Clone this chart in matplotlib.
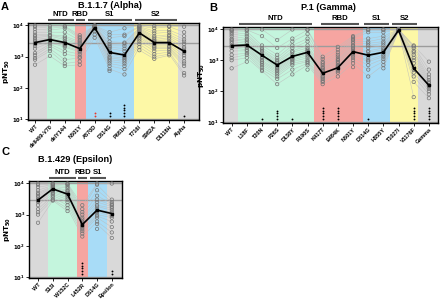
import numpy as np
import matplotlib.pyplot as plt
from matplotlib.transforms import blended_transform_factory

plt.rcParams['font.family'] = ['Liberation Sans', 'DejaVu Sans']
plt.rcParams['font.weight'] = 'bold'

# ---------------- panel A : B.1.1.7 (Alpha)
a_labels = ['WT', 'delH69-V70', 'delY144', 'N501Y', 'A570D', 'D614G', 'P681H',
            'T716I', 'S982A', 'D1118H', 'Alpha']
a_gmt = [2800, 3500, 2800, 1800, 8400, 1360, 1120, 5700, 2800, 2800, 1480]
a_below = [0, 0, 0, 0, 2, 2, 5, 0, 0, 0, 1]
a_wt = [9800, 9000, 7500, 6000, 5000, 4500, 4000, 3500, 3200, 2800, 2500, 2200, 1800, 1300, 1100, 900, 800, 550]
a_del69 = [9500, 8000, 7000, 6000, 5000, 4800, 4500, 4000, 3700, 3500, 3300, 3000, 2800, 2500, 2200, 1800, 1500, 1050]
a_y144 = [9500, 9000, 8000, 6000, 4500, 4000, 3500, 3000, 2800, 2600, 2400, 2200, 2000, 1500, 1200, 800, 600, 500]
a_n501y = [4800, 4200, 3800, 3300, 3000, 2700, 2500, 2200, 2000, 1900, 1700, 1500, 1400, 1200, 1000, 900, 700, 550]
a_a570d = [9800, 9800, 9700, 9600, 9500, 9500, 9400, 9300, 9000, 9000, 8800, 8500, 8000, 7500, 6500, 5000, 4000]
a_d614g = [6000, 5000, 4000, 3000, 2500, 2200, 2000, 1800, 1500, 1200, 1000, 900, 800, 700, 600, 500, 400, 350]
a_p681h = [8000, 5000, 4500, 2800, 2600, 2200, 1800, 1500, 1200, 1000, 900, 800, 700, 600, 500, 400, 270]
a_t716i = [9800, 9500, 9000, 8500, 8000, 7500, 7000, 6500, 6000, 5500, 5000, 4500, 4000, 3500, 3000, 2500, 2000, 1600]
a_s982a = [9500, 8000, 6500, 5500, 4500, 4000, 3500, 3200, 3000, 2800, 2500, 2200, 2000, 1800, 1500, 1200, 1000, 850]
a_d1118h = [9500, 9000, 7000, 6000, 5000, 4500, 4000, 3500, 3000, 2800, 2500, 2200, 2000, 1800, 1600, 1400, 1200, 1100]
a_alpha = [9000, 6000, 4500, 3500, 3000, 2500, 2000, 1800, 1500, 1300, 1100, 900, 700, 600, 500, 300, 250]

# ---------------- panel B : P.1 (Gamma)
b_labels = ['WT', 'L18F', 'T20N', 'P26S', 'D138Y', 'R190S', 'K417T', 'E484K', 'N501Y',
            'D614G', 'H655Y', 'T1027I', 'V1176F', 'Gamma']
b_gmt = [2950, 3100, 1450, 700, 1330, 1800, 380, 575, 1900, 1450, 1800, 9300, 550, 155]
b_below = [0, 0, 1, 4, 1, 0, 5, 5, 0, 1, 0, 0, 5, 5]
b_wt = [9800, 9500, 9000, 8000, 7000, 6000, 5000, 4500, 4000, 3500, 3000, 2800, 2500, 2000, 1500, 1200, 1000, 550]
b_l18f = [9800, 9500, 8500, 7000, 6000, 5000, 4500, 4000, 3500, 3000, 2800, 2500, 2200, 2000, 1700, 1500, 1200, 900]
b_t20n = [9800, 6000, 3000, 2500, 2200, 2000, 1800, 1500, 1300, 1200, 1000, 900, 800, 700, 600, 500, 450]
b_p26s = [4500, 2500, 1500, 1200, 1000, 900, 800, 700, 600, 550, 500, 450, 400, 350, 300, 250, 170]
b_d138y = [9800, 5000, 4000, 3000, 2500, 2000, 1800, 1500, 1300, 1200, 1100, 1000, 900, 800, 700, 500, 350]
b_r190s = [9800, 9500, 7000, 5000, 4000, 3000, 2500, 2200, 2000, 1800, 1600, 1400, 1200, 1000, 900, 800, 700, 500]
b_k417t = [1300, 1100, 900, 800, 700, 600, 550, 500, 450, 400, 350, 300, 280, 250, 220, 200, 170]
b_e484k = [2700, 2200, 1800, 1500, 1300, 1100, 1000, 900, 800, 700, 650, 600, 550, 500, 450, 400, 300]
b_n501y = [6000, 5500, 5000, 4500, 4000, 3500, 3000, 2800, 2500, 2200, 2000, 1800, 1600, 1400, 1200, 1000, 800, 600]
b_d614g = [9800, 9500, 8000, 5000, 4000, 3500, 3000, 2500, 2000, 1800, 1500, 1200, 1000, 900, 700, 500, 300]
b_h655y = [9800, 9500, 8000, 6000, 5000, 4000, 3500, 3000, 2500, 2200, 2000, 1800, 1500, 1300, 1100, 900, 700, 550]
b_t1027i = [9900, 9900, 9800, 9800, 9700, 9700, 9600, 9500, 9500, 9400, 9300, 9200, 9100, 9000, 9000, 8900, 8800, 8700]
b_v1176f = [3000, 2800, 2500, 2000, 1800, 1500, 1200, 1000, 800, 600, 500, 400, 300, 200, 65]
b_gamma = [900, 500, 350, 280, 230, 200, 180, 160, 150, 140, 120, 100, 80, 60]

# ---------------- panel C : B.1.429 (Epsilon)
c_labels = ['WT', 'S13I', 'W152C', 'L452R', 'D614G', 'Epsilon']
c_gmt = [2900, 6600, 4500, 480, 1390, 1080]
c_below = [0, 0, 0, 5, 0, 2]
c_wt = [9800, 9000, 7500, 6000, 5000, 4500, 4000, 3500, 3000, 2800, 2500, 2000, 1500, 1200, 1000, 550]
c_s13i = [9800, 9500, 9000, 8500, 8000, 7500, 7000, 6500, 6000, 5500, 5000, 4500, 4000, 3500, 3000, 2800]
c_w152c = [9800, 9500, 9000, 8000, 7000, 6000, 5500, 5000, 4500, 4000, 3500, 3000, 2500, 2000, 1600, 1300]
c_l452r = [2000, 1500, 1200, 1000, 800, 700, 600, 550, 500, 450, 400, 350, 300, 250, 200]
c_d614g = [9800, 9000, 6000, 4000, 3000, 2500, 2000, 1800, 1500, 1300, 1200, 1000, 900, 800, 600, 500, 350]
c_eps = [9800, 3000, 2500, 2200, 2000, 1800, 1600, 1400, 1200, 1000, 900, 800, 600, 400, 270, 180]

GRAY, GREEN, RED, BLUE, YELLOW = '#d9d9d9', '#c4f5dd', '#f6a5a1', '#a8dcf7', '#fdf8a6'


def draw_panel(ax, labels, gmt, values, below, xlim, regions, brackets, red_idx=()):
    x = np.arange(len(labels))
    ax.axvspan(xlim[0], regions[0][0], color=GRAY, lw=0, zorder=0)
    for x0, x1, col in regions:
        ax.axvspan(x0, x1, color=col, lw=0, zorder=0)
    for yy in (10, 1e4, gmt[0]):
        ax.axhline(yy, color='#9c9c9c', lw=1.0, zorder=1)

    # thin lines for each serum
    n = max(len(v) for v in values)
    for s in range(n):
        ys = [v[s] if s < len(v) else np.nan for v in values]
        ax.plot(x, ys, color='#bcbcbc', lw=0.4, alpha=0.8, zorder=2)

    for i, v in enumerate(values):
        ax.scatter(np.full(len(v), i), v, s=6, facecolors='none',
                   edgecolors='#747474', linewidths=0.5, zorder=3)
        if below[i]:
            yd = 10 ** (1.12 + 0.085 * np.arange(below[i]))
            col = '#e8392b' if i in red_idx else 'black'
            ax.scatter(np.full(below[i], i), yd, s=1.8, color=col, lw=0, zorder=4)

    ax.plot(x, gmt, color='black', lw=1.2, marker='s', ms=1.8, zorder=5)

    ax.set_yscale('log')
    ax.set_ylim(9.5, 1.18e4)
    ax.set_xlim(*xlim)
    ax.set_xticks(x)
    ax.set_xticklabels(labels, rotation=45, ha='right', rotation_mode='anchor',
                       fontsize=4.0, fontweight='bold')
    ax.set_yticks([10, 100, 1000, 10000])
    ax.set_yticklabels([r'$\mathbf{10^{%d}}$' % k for k in range(1, 5)], fontsize=3.8)
    ax.tick_params(axis='both', which='major', length=2.0, width=0.6, pad=0.8)
    ax.tick_params(axis='y', which='minor', length=1.1, width=0.4)
    ax.set_ylabel(r'$\mathbf{pNT_{50}}$', fontsize=5.2, labelpad=0)
    for sp in ax.spines.values():
        sp.set_linewidth(1.0)

    tr = blended_transform_factory(ax.transData, ax.transAxes)
    for name, x0, x1 in brackets:
        ax.plot([x0, x1], [1.035, 1.035], color='#555555', lw=1.5, transform=tr,
                clip_on=False, solid_capstyle='butt')
        ax.text((x0 + x1) / 2, 1.05, name, transform=tr, ha='center', va='bottom',
                fontsize=5.6, fontweight='bold')


fig = plt.figure(figsize=(4.4, 2.99), dpi=100)

axA = fig.add_axes([28 / 440, 1 - 120 / 299, 171 / 440, 97 / 299])
draw_panel(axA, a_labels, a_gmt,
           [a_wt, a_del69, a_y144, a_n501y, a_a570d, a_d614g, a_p681h,
            a_t716i, a_s982a, a_d1118h, a_alpha],
           a_below, (-0.47, 11.0),
           [(0.8, 2.68, GREEN), (2.68, 3.42, RED), (3.42, 6.64, BLUE),
            (6.64, 9.6, YELLOW), (9.6, 11.0, GRAY)],
           [('NTD', 0.85, 2.6), ('RBD', 2.72, 3.36), ('S1', 3.55, 6.5), ('S2', 6.72, 9.5)],
           red_idx=(4,))

axB = fig.add_axes([223 / 440, 1 - 123 / 299, 215 / 440, 96 / 299])
draw_panel(axB, b_labels, b_gmt,
           [b_wt, b_l18f, b_t20n, b_p26s, b_d138y, b_r190s, b_k417t, b_e484k,
            b_n501y, b_d614g, b_h655y, b_t1027i, b_v1176f, b_gamma],
           b_below, (-0.57, 13.6),
           [(0.42, 5.43, GREEN), (5.43, 8.67, RED), (8.67, 10.45, BLUE),
            (10.45, 12.3, YELLOW), (12.3, 13.6, GRAY)],
           [('NTD', 0.5, 5.3), ('RBD', 5.9, 8.4), ('S1', 8.75, 10.35), ('S2', 10.55, 12.2)])

axC = fig.add_axes([29 / 440, 1 - 278 / 299, 93 / 440, 97 / 299])
draw_panel(axC, c_labels, c_gmt,
           [c_wt, c_s13i, c_w152c, c_l452r, c_d614g, c_eps],
           c_below, (-0.61, 5.69),
           [(0.68, 2.65, GREEN), (2.65, 3.4, RED), (3.4, 4.69, BLUE), (4.69, 5.69, GRAY)],
           [('NTD', 0.75, 2.55), ('RBD', 2.7, 3.35), ('S1', 3.5, 4.6)])

fig.text(110 / 440, 1 - 6 / 299, 'B.1.1.7 (Alpha)', ha='center', va='center', fontsize=6.6, fontweight='bold')
fig.text(328 / 440, 1 - 7 / 299, 'P.1 (Gamma)', ha='center', va='center', fontsize=6.6, fontweight='bold')
fig.text(75 / 440, 1 - 160 / 299, 'B.1.429 (Epsilon)', ha='center', va='center', fontsize=6.6, fontweight='bold')
fig.text(5 / 440, 1 - 7 / 299, 'A', ha='center', va='center', fontsize=8, fontweight='bold')
fig.text(213 / 440, 1 - 8 / 299, 'B', ha='center', va='center', fontsize=8, fontweight='bold')
fig.text(5 / 440, 1 - 152 / 299, 'C', ha='center', va='center', fontsize=8, fontweight='bold')

fig.savefig('out.png', dpi=100)
